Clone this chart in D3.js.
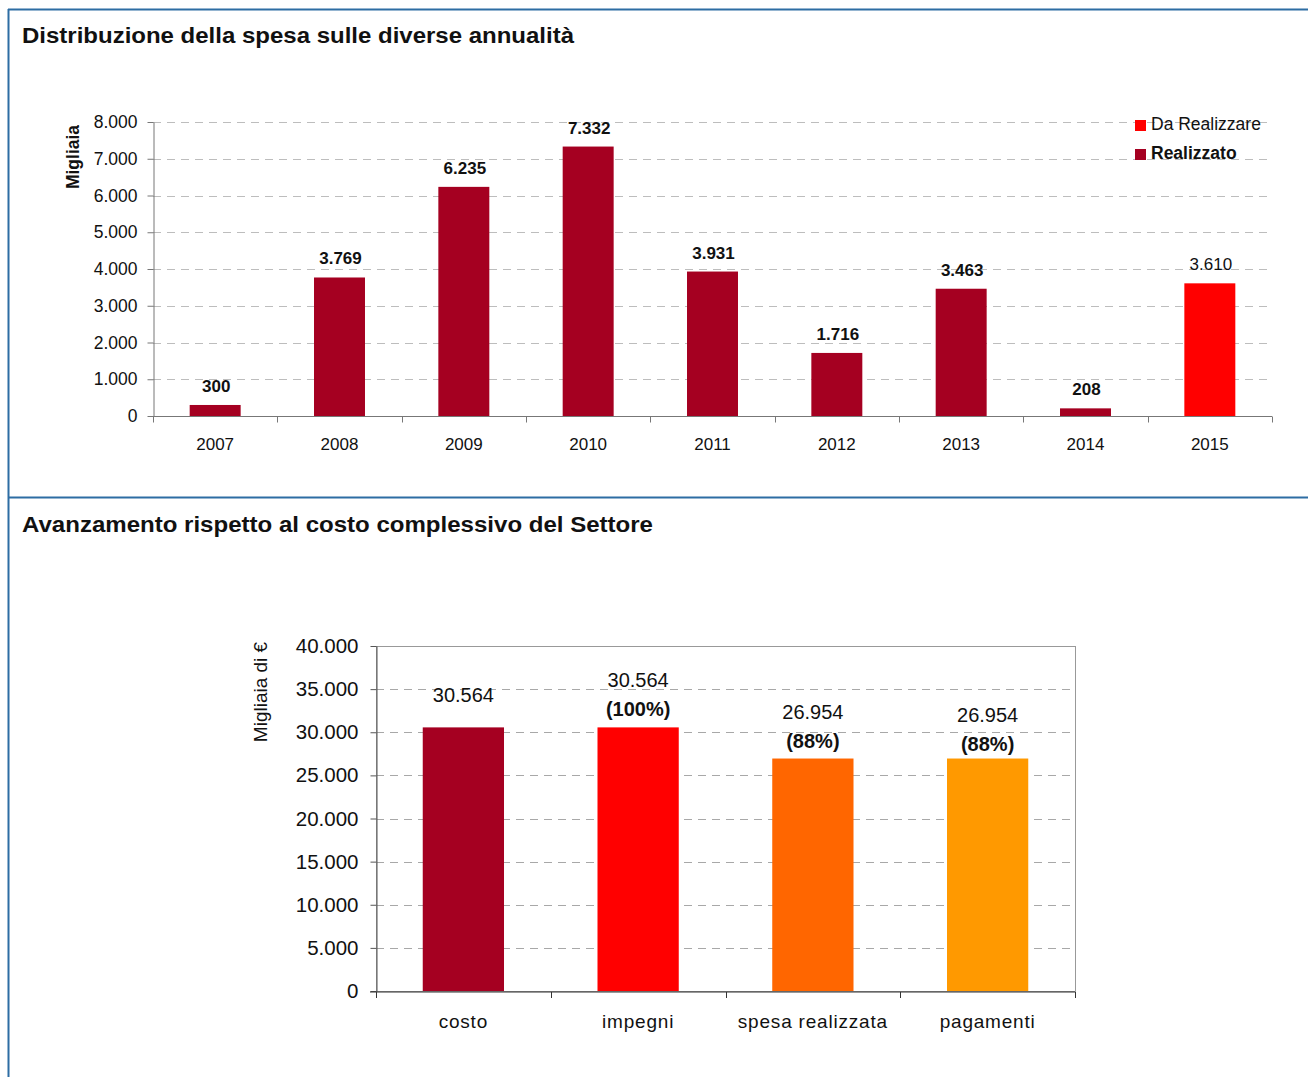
<!DOCTYPE html>
<html><head><meta charset="utf-8">
<script src="https://cdn.jsdelivr.net/npm/d3@7"></script>
<style>
body{margin:0;background:#fff;}
svg{display:block;font-family:"Liberation Sans",Arial,sans-serif;}
</style></head>
<body><svg id="c" width="1308" height="1077"></svg>
<script>
// ---- Data: chart 1 ----
const years = ["2007","2008","2009","2010","2011","2012","2013","2014","2015"];
const realizzato = [300,3769,6235,7332,3931,1716,3463,208,0];
const daRealizzare = [0,0,0,0,0,0,0,0,3610];
const yTicks1 = [0,1000,2000,3000,4000,5000,6000,7000,8000];
const legend1 = ["Da Realizzare","Realizzato"];

// ---- Data: chart 2 ----
const categories2 = ["costo","impegni","spesa realizzata","pagamenti"];
const values2 = [30564,30564,26954,26954];
const perc2 = [null,"(100%)","(88%)","(88%)"];
const yTicks2 = [0,5000,10000,15000,20000,25000,30000,35000,40000];

const colors1 = {real:"#A50021", da:"#FF0000"};
const colors2 = ["#A50021","#FF0000","#FF6600","#FF9900"];
const fmt = v => d3.format(",")(v).replace(/,/g,".");

const svg = d3.select("#c");
const blue = "#2D6DA3";
const FF = "'Liberation Sans', Arial, sans-serif";

// panel borders
svg.append("line").attr("x1",8).attr("x2",1308).attr("y1",9.5).attr("y2",9.5).attr("stroke",blue).attr("stroke-width",2);
svg.append("line").attr("x1",8.5).attr("x2",8.5).attr("y1",9).attr("y2",1077).attr("stroke",blue).attr("stroke-width",2);
svg.append("line").attr("x1",8).attr("x2",1308).attr("y1",497.5).attr("y2",497.5).attr("stroke",blue).attr("stroke-width",2);

// titles
svg.append("text").attr("x",22).attr("y",43).attr("font-size",22.5).attr("font-weight","bold").attr("fill","#111")
  .attr("textLength",552).attr("lengthAdjust","spacingAndGlyphs")
  .text("Distribuzione della spesa sulle diverse annualità");
svg.append("text").attr("x",22).attr("y",532).attr("font-size",22.5).attr("font-weight","bold").attr("fill","#111")
  .attr("textLength",631).attr("lengthAdjust","spacingAndGlyphs")
  .text("Avanzamento rispetto al costo complessivo del Settore");

// ---------- Chart 1 ----------
{
  const x = d3.scaleBand().domain(years).range([153,1272]).padding(0);
  const y = d3.scaleLinear().domain([0,8000]).range([416,122]);
  const bw = x.bandwidth()*0.41;
  const g = svg.append("g");
  g.selectAll(".grid").data(yTicks1.slice(1)).enter().append("line")
    .attr("x1",153).attr("x2",1272).attr("y1",d=>Math.round(y(d))+0.5).attr("y2",d=>Math.round(y(d))+0.5)
    .attr("stroke","#BDBDBD").attr("stroke-dasharray","8,6");
  g.selectAll(".br").data(years).enter().append("rect")
    .attr("x",(d)=>x(d)+(x.bandwidth()-bw)/2).attr("width",bw)
    .attr("y",(d,i)=>y(realizzato[i])).attr("height",(d,i)=>y(0)-y(realizzato[i]))
    .attr("fill",colors1.real);
  g.selectAll(".bd").data(years).enter().append("rect")
    .attr("x",(d)=>x(d)+(x.bandwidth()-bw)/2).attr("width",bw)
    .attr("y",(d,i)=>y(daRealizzare[i]+realizzato[i])).attr("height",(d,i)=>y(realizzato[i])-y(daRealizzare[i]+realizzato[i]))
    .attr("fill",colors1.da);
  years.forEach((d,i)=>{
    const isReal = realizzato[i]>0;
    const v = isReal?realizzato[i]:daRealizzare[i];
    g.append("text").attr("x",x(d)+x.bandwidth()/2+1).attr("y",y(realizzato[i]+daRealizzare[i])-13)
      .attr("text-anchor","middle").attr("font-size",17).attr("font-weight",isReal?"bold":"normal")
      .attr("fill","#111").text(fmt(v));
  });
  const ya = d3.axisLeft(y).tickValues(yTicks1).tickFormat(fmt).tickSize(6).tickSizeOuter(0);
  const yg = g.append("g").attr("transform","translate(153.5,0)").call(ya);
  yg.attr("font-family",FF);
  yg.select(".domain").attr("stroke","#777");
  yg.selectAll(".tick line").attr("stroke","#777");
  yg.selectAll(".tick text").attr("font-size",17.5).attr("fill","#111").attr("dx",-7);
  const xg = g.append("g").attr("transform","translate(0,416.5)");
  xg.append("line").attr("x1",153).attr("x2",1272).attr("stroke","#777");
  xg.selectAll(".tk").data(years.concat(["end"])).enter().append("line")
    .attr("x1",(d,i)=>Math.round(153+i*x.step())+0.5).attr("x2",(d,i)=>Math.round(153+i*x.step())+0.5)
    .attr("y1",0).attr("y2",6).attr("stroke","#777");
  xg.selectAll(".lb").data(years).enter().append("text")
    .attr("x",d=>x(d)+x.bandwidth()/2).attr("y",33).attr("text-anchor","middle")
    .attr("font-size",17).attr("fill","#111").text(d=>d);
  svg.append("text").attr("transform","translate(79,157) rotate(-90)").attr("text-anchor","middle")
    .attr("font-size",17.5).attr("font-weight","bold").attr("fill","#111").text("Migliaia");
  legend1.forEach((t,i)=>{
    const yy = 120+i*29;
    svg.append("rect").attr("x",1135).attr("y",yy).attr("width",11).attr("height",11).attr("fill",i===0?colors1.da:colors1.real);
    svg.append("text").attr("x",1151).attr("y",yy+10).attr("font-size",17.5).attr("fill","#111")
      .attr("font-weight",i===0?"normal":"bold").text(t);
  });
}

// ---------- Chart 2 ----------
{
  const x = d3.scaleBand().domain(categories2).range([376,1075]).padding(0);
  const y = d3.scaleLinear().domain([0,40000]).range([991,646]);
  const bw = x.bandwidth()*0.465;
  const g = svg.append("g");
  g.selectAll(".grid").data(yTicks2.slice(1,-1)).enter().append("line")
    .attr("x1",376).attr("x2",1075).attr("y1",d=>Math.round(y(d))+0.5).attr("y2",d=>Math.round(y(d))+0.5)
    .attr("stroke","#A8A8A8").attr("stroke-dasharray","8,6");
  g.append("rect").attr("x",376.5).attr("y",646.5).attr("width",699).attr("height",345)
    .attr("fill","none").attr("stroke","#999");
  g.selectAll(".bar").data(categories2).enter().append("rect")
    .attr("x",d=>x(d)+(x.bandwidth()-bw)/2).attr("width",bw)
    .attr("y",(d,i)=>y(values2[i])).attr("height",(d,i)=>y(0)-y(values2[i]))
    .attr("fill",(d,i)=>colors2[i]);
  categories2.forEach((d,i)=>{
    const cx = x(d)+x.bandwidth()/2;
    const top = y(values2[i]);
    if(perc2[i]===null){
      g.append("text").attr("x",cx).attr("y",top-25).attr("text-anchor","middle").attr("font-size",20).attr("fill","#111").text(fmt(values2[i]));
    } else {
      const off = i===3?3:0;
      g.append("text").attr("x",cx).attr("y",top-40+off).attr("text-anchor","middle").attr("font-size",20).attr("fill","#111").text(fmt(values2[i]));
      g.append("text").attr("x",cx).attr("y",top-11+off).attr("text-anchor","middle").attr("font-size",20).attr("font-weight","bold").attr("fill","#111").text(perc2[i]);
    }
  });
  const ya = d3.axisLeft(y).tickValues(yTicks2).tickFormat(fmt).tickSize(6).tickSizeOuter(0);
  const yg = g.append("g").attr("transform","translate(376.5,0)").call(ya);
  yg.attr("font-family",FF);
  yg.select(".domain").attr("stroke","#555");
  yg.selectAll(".tick line").attr("stroke","#555");
  yg.selectAll(".tick text").attr("font-size",20.5).attr("fill","#111").attr("dx",-9);
  const xg = g.append("g").attr("transform","translate(0,992)");
  xg.append("line").attr("x1",370).attr("x2",1075).attr("stroke","#333");
  xg.selectAll(".tk").data([0,1,2,3,4]).enter().append("line")
    .attr("x1",d=>Math.round(376+d*x.step())+0.5).attr("x2",d=>Math.round(376+d*x.step())+0.5)
    .attr("y1",0).attr("y2",6).attr("stroke","#333");
  xg.selectAll(".lb").data(categories2).enter().append("text")
    .attr("x",d=>x(d)+x.bandwidth()/2).attr("y",36).attr("text-anchor","middle")
    .attr("font-size",19).attr("letter-spacing","0.8px").attr("fill","#111").text(d=>d);
  svg.append("text").attr("transform","translate(267,692) rotate(-90)").attr("text-anchor","middle")
    .attr("font-size",19).attr("fill","#111").text("Migliaia di €");
}
</script></body></html>
